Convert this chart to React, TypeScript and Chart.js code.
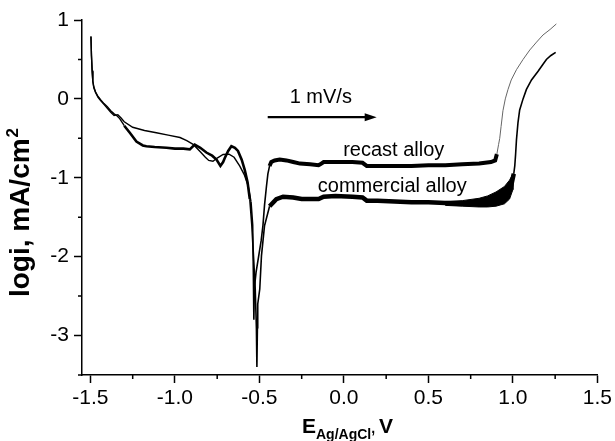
import React, { useEffect, useRef } from "react";
import { Chart, registerables } from "chart.js";

Chart.register(...registerables);

// ---- data ----
const recastE = [
  -1.497, -1.494, -1.49, -1.486, -1.48, -1.47, -1.455, -1.44, -1.42, -1.4, -1.38, -1.36, -1.338, -1.32, -1.3,
  -1.25, -1.18, -1.11, -1.04, -0.97, -0.93, -0.89, -0.85, -0.82, -0.8, -0.775, -0.75, -0.715, -0.68, -0.65,
  -0.617, -0.59, -0.567, -0.55, -0.54, -0.536, -0.533, -0.53, -0.52, -0.505, -0.49, -0.479, -0.47, -0.459,
  -0.45, -0.44, -0.43, -0.41, -0.38, -0.34, -0.3, -0.26, -0.2, -0.15, -0.14, -0.12, -0.05, 0.05, 0.11,
  0.135, 0.2, 0.3, 0.4, 0.5, 0.6, 0.7, 0.8, 0.87, 0.895, 0.905, 0.915, 0.922, 0.93, 0.941, 0.955, 0.971,
  0.99, 1.021, 1.06, 1.1, 1.14, 1.178, 1.22, 1.257,
];
const recastLogI = [
  0.79, 0.55, 0.35, 0.22, 0.14, 0.08, 0.02, -0.02, -0.07, -0.12, -0.17, -0.21, -0.2, -0.24, -0.29,
  -0.36, -0.4, -0.43, -0.46, -0.49, -0.53, -0.58, -0.67, -0.74, -0.78, -0.79, -0.75, -0.705, -0.7, -0.74,
  -0.85, -0.96, -1.1, -1.3, -1.6, -2.2, -2.8, -2.4, -2.2, -2.0, -1.8, -1.6, -1.35, -1.12,
  -0.95, -0.85, -0.8, -0.78, -0.77, -0.78, -0.8, -0.82, -0.83, -0.84, -0.83, -0.8, -0.8, -0.8, -0.81,
  -0.85, -0.85, -0.85, -0.85, -0.84, -0.84, -0.83, -0.82, -0.8, -0.78, -0.7, -0.58, -0.5, -0.35, -0.15, 0.0, 0.12,
  0.24, 0.37, 0.5, 0.62, 0.72, 0.81, 0.88, 0.95,
];

const commercialE = [
  -1.497, -1.494, -1.49, -1.486, -1.48, -1.47, -1.455, -1.44, -1.42, -1.4, -1.38, -1.36, -1.345, -1.327, -1.3,
  -1.267, -1.228, -1.19, -1.169, -1.12, -1.05, -1.0, -0.95, -0.912, -0.883, -0.85, -0.814, -0.78, -0.754,
  -0.731, -0.715, -0.705, -0.685, -0.666, -0.645, -0.627, -0.605, -0.587, -0.57, -0.557, -0.545, -0.535,
  -0.525, -0.518, -0.515, -0.512, -0.51, -0.498, -0.488, -0.47, -0.44, -0.4, -0.36, -0.3, -0.25, -0.2, -0.15,
  -0.12, -0.05, 0.05, 0.11, 0.135, 0.2, 0.3, 0.4, 0.5, 0.6, 0.7, 0.8, 0.87, 0.93, 0.97, 0.99, 1.005, 1.011,
  1.016, 1.021, 1.03, 1.04, 1.06, 1.08, 1.11, 1.149, 1.175, 1.198, 1.225, 1.253,
];
const commercialLogI = [
  0.79, 0.55, 0.36, 0.23, 0.15, 0.09, 0.03, -0.01, -0.06, -0.1, -0.15, -0.19, -0.21, -0.25, -0.34,
  -0.43, -0.54, -0.59, -0.6, -0.61, -0.62, -0.63, -0.63, -0.64, -0.58, -0.62, -0.68, -0.72, -0.77,
  -0.85, -0.8, -0.75, -0.66, -0.6, -0.62, -0.66, -0.77, -0.9, -1.06, -1.27, -1.6, -2.0,
  -2.4, -2.9, -3.4, -2.9, -2.6, -2.41, -1.99, -1.61, -1.36, -1.27, -1.24, -1.25, -1.27, -1.27, -1.27,
  -1.24, -1.23, -1.24, -1.25, -1.29, -1.29, -1.3, -1.31, -1.31, -1.32, -1.33, -1.33, -1.32, -1.28, -1.2, -1.1, -0.95, -0.85,
  -0.7, -0.52, -0.3, -0.14, 0.0, 0.12, 0.24, 0.35, 0.43, 0.5, 0.55, 0.59,
];

// noisy widening of the commercial-alloy band before breakdown
const bandE = [0.6, 0.7, 0.8, 0.85, 0.9, 0.95, 0.98, 1.0];
const bandTop = [-1.3, -1.29, -1.26, -1.23, -1.18, -1.11, -1.03, -0.95];
const bandBottom = [-1.35, -1.36, -1.37, -1.37, -1.36, -1.33, -1.27, -1.15];

const xMajorTicks = [-1.5, -1.0, -0.5, 0.0, 0.5, 1.0, 1.5];
const xMinorTicks = [-1.25, -0.75, -0.25, 0.25, 0.75, 1.25];
const yMajorTicks = [-3, -2, -1, 0, 1];
const yMinorTicks = [-3.5, -2.5, -1.5, -0.5, 0.5];

const rateLabel = "1 mV/s";
const recastLabel = "recast alloy";
const commercialLabel = "commercial alloy";

const FONT = '"Liberation Sans", Arial, Helvetica, sans-serif';

const toPts = (xs: number[], ys: number[]) => xs.map((x, i) => ({ x, y: ys[i] }));

export default function App() {
  const ref = useRef<HTMLCanvasElement | null>(null);

  useEffect(() => {
    document.body.style.margin = "0";
    const canvas = ref.current;
    if (!canvas) return;

    const bandPoly = [
      ...toPts(bandE, bandTop),
      ...toPts(bandE, bandBottom).reverse(),
    ];

    const decorations = {
      id: "decorations",
      afterDraw(chart: any) {
        const ctx = chart.ctx as CanvasRenderingContext2D;
        const xs = chart.scales.x;
        const ys = chart.scales.y;
        const area = chart.chartArea;
        ctx.save();
        ctx.strokeStyle = "#000";
        ctx.fillStyle = "#000";
        ctx.lineWidth = 1.5;
        // minor ticks
        ctx.beginPath();
        xMinorTicks.forEach((v) => {
          const px = xs.getPixelForValue(v);
          ctx.moveTo(px, area.bottom);
          ctx.lineTo(px, area.bottom + 4);
        });
        yMinorTicks.forEach((v) => {
          const py = ys.getPixelForValue(v);
          ctx.moveTo(area.left, py);
          ctx.lineTo(area.left - 4, py);
        });
        ctx.stroke();

        // arrow
        const ax0 = xs.getPixelForValue(-0.451);
        const ax1 = xs.getPixelForValue(0.194);
        const ay = ys.getPixelForValue(-0.232);
        ctx.lineWidth = 2.2;
        ctx.beginPath();
        ctx.moveTo(ax0, ay);
        ctx.lineTo(ax1 - 8, ay);
        ctx.stroke();
        ctx.beginPath();
        ctx.moveTo(ax1, ay);
        ctx.lineTo(ax1 - 12, ay - 4);
        ctx.lineTo(ax1 - 12, ay + 4);
        ctx.closePath();
        ctx.fill();

        // annotation text
        ctx.font = `20px ${FONT}`;
        ctx.textAlign = "center";
        ctx.textBaseline = "alphabetic";
        ctx.fillText(rateLabel, xs.getPixelForValue(-0.137), 103);
        ctx.fillText(recastLabel, xs.getPixelForValue(0.295), 156);
        ctx.fillText(commercialLabel, xs.getPixelForValue(0.286), 192);

        // y title
        ctx.save();
        ctx.translate(29, 213);
        ctx.rotate(-Math.PI / 2);
        ctx.font = `bold 28px ${FONT}`;
        const main = "logi, mA/cm";
        const w1 = ctx.measureText(main).width;
        ctx.font = `bold 17px ${FONT}`;
        const w2 = ctx.measureText("2").width;
        const start = -(w1 + w2) / 2;
        ctx.textAlign = "left";
        ctx.font = `bold 28px ${FONT}`;
        ctx.fillText(main, start, 0);
        ctx.font = `bold 17px ${FONT}`;
        ctx.fillText("2", start + w1 + 1, -11);
        ctx.restore();

        // x title  E_{Ag/AgCl}, V
        ctx.textAlign = "left";
        let x = 302;
        ctx.font = `bold 21px ${FONT}`;
        ctx.fillText("E", x, 433);
        x += ctx.measureText("E").width;
        ctx.font = `bold 14px ${FONT}`;
        ctx.fillText("Ag/AgCl", x, 439);
        x += ctx.measureText("Ag/AgCl").width;
        ctx.fillText(",", x, 433);
        x += ctx.measureText(",").width + 4;
        ctx.font = `bold 21px ${FONT}`;
        ctx.fillText("V", x, 433);
        ctx.restore();
      },
    };

    const chart = new Chart(canvas, {
      type: "scatter",
      data: {
        datasets: [
          {
            label: "band",
            data: bandPoly,
            showLine: true,
            fill: "shape" as any,
            backgroundColor: "#000",
            borderColor: "#000",
            borderWidth: 1,
            pointRadius: 0,
            tension: 0,
          },
          {
            label: recastLabel,
            data: toPts(recastE, recastLogI),
            showLine: true,
            borderColor: "#000",
            pointRadius: 0,
            borderWidth: 1.5,
            tension: 0,
            segment: {
              borderWidth: (c: any) => {
                const x = c.p0.parsed.x;
                if (x < -0.56) return 1.4;
                if (x < -0.44) return 1.6;
                if (x < 0.9) return 4;
                return 1;
              },
              borderColor: (c: any) => (c.p0.parsed.x >= 0.9 ? "#666" : "#000"),
            },
          } as any,
          {
            label: commercialLabel,
            data: toPts(commercialE, commercialLogI),
            showLine: true,
            borderColor: "#000",
            pointRadius: 0,
            borderWidth: 2,
            tension: 0,
            segment: {
              borderWidth: (c: any) => {
                const x = c.p0.parsed.x;
                if (x < -1.3) return 1.4;
                if (x < -0.56) return 2.6;
                if (x < -0.44) return 1.6;
                if (x < 1.005) return 4.5;
                return 1.6;
              },
            },
          } as any,
        ],
      },
      options: {
        animation: false,
        responsive: false,
        maintainAspectRatio: false,
        layout: { padding: { top: 20, right: 17, left: 0, bottom: 0 } },
        plugins: { legend: { display: false }, tooltip: { enabled: false } },
        scales: {
          x: {
            type: "linear",
            min: -1.55,
            max: 1.5,
            afterBuildTicks: (s: any) => {
              s.ticks = xMajorTicks.map((v) => ({ value: v }));
            },
            afterFit: (s: any) => {
              s.height = 66;
            },
            ticks: {
              color: "#000",
              font: { family: FONT, size: 21 },
              padding: 3,
              maxRotation: 0,
              autoSkip: false,
              callback: (v: any) => (Number(v) < 0 ? "-" + Math.abs(Number(v)).toFixed(1) : Number(v).toFixed(1)),
            },
            grid: {
              drawOnChartArea: false,
              drawTicks: true,
              tickLength: 8,
              tickWidth: 1.5,
              tickColor: "#000",
            },
            border: { display: true, color: "#000", width: 1.5 },
          },
          y: {
            type: "linear",
            min: -3.5,
            max: 1,
            afterBuildTicks: (s: any) => {
              s.ticks = yMajorTicks.map((v) => ({ value: v }));
            },
            afterFit: (s: any) => {
              s.width = 82;
            },
            ticks: {
              color: "#000",
              font: { family: FONT, size: 21 },
              padding: 5,
              autoSkip: false,
              callback: (v: any) => String(v),
            },
            grid: {
              drawOnChartArea: false,
              drawTicks: true,
              tickLength: 8,
              tickWidth: 1.5,
              tickColor: "#000",
            },
            border: { display: true, color: "#000", width: 1.5 },
          },
        },
      },
      plugins: [decorations],
    });

    return () => chart.destroy();
  }, []);

  return (
    <div style={{ width: 615, height: 441, background: "#fff" }}>
      <canvas ref={ref} width={615} height={441} style={{ display: "block", width: 615, height: 441 }} />
    </div>
  );
}
